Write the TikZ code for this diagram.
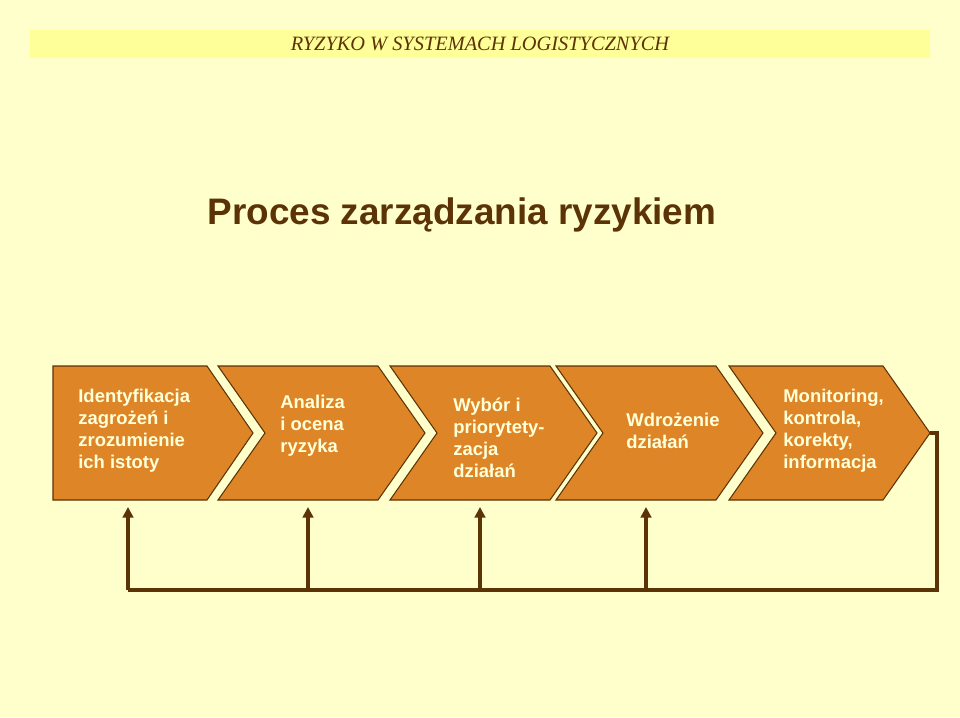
\documentclass[tikz,border=0pt]{standalone}
\usepackage{fontspec}
\setmainfont{Liberation Sans}
\newfontfamily\hdrfont{Liberation Serif}
\usetikzlibrary{calc, positioning, arrows.meta}
\definecolor{bgcream}{HTML}{FFFFCC}
\definecolor{hdrband}{HTML}{FFFF99}
\definecolor{darkbrown}{HTML}{5C3306}
\definecolor{chevfill}{HTML}{DE8528}
\definecolor{chevtext}{HTML}{FFFFD8}
\begin{document}
\begin{tikzpicture}[x=0.02cm,y=-0.02cm,
  chev/.style={fill=chevfill, draw=darkbrown, line width=0.6pt},
  steptxt/.style={anchor=west, align=left, inner sep=0pt, text=chevtext, font=\fontsize{10.5}{12.5}\selectfont\bfseries},
  fb/.style={draw=darkbrown, line width=2.2pt},
  fbarrow/.style={fb, -{Triangle[length=6pt,width=6pt]}}]
  \fill[bgcream] (0,0) rectangle (960,717);
  \useasboundingbox (0,0) rectangle (960,717);
  % naglowek
  \fill[hdrband] (30,30) rectangle (930,58);
  \node[text=darkbrown, font=\hdrfont\itshape\fontsize{11.6}{13}\selectfont] (hdr) at (480,44) {RYZYKO W SYSTEMACH LOGISTYCZNYCH};
  \node[text=darkbrown, font=\fontsize{21}{25}\selectfont\bfseries] (title) at (462,215) {Proces zarządzania ryzykiem};
  % strzalki procesu
  \draw[chev] (53,366) -- (207,366) -- (253,433) -- (207,500) -- (53,500) -- cycle;
  \foreach \l/\r in {218/378, 390/550, 556/716, 729/883}
    \draw[chev] (\l,366) -- (\r,366) -- (\r+47,433) -- (\r,500) -- (\l,500) -- (\l+47,433) -- cycle;
  \node[steptxt] (s1) at (78,431) {Identyfikacja\\zagrożeń i\\zrozumienie\\ich istoty};
  \node[steptxt] (s2) at (280,426) {Analiza\\i ocena\\ryzyka};
  \node[steptxt] (s3) at (453,438) {Wybór i\\priorytety-\\zacja\\działań};
  \node[steptxt] (s4) at (626,431) {Wdrożenie\\działań};
  \node[steptxt] (s5) at (783,431) {Monitoring,\\kontrola,\\korekty,\\informacja};
  % sprzezenie zwrotne
  \coordinate (tip) at (930,433);
  \coordinate (corner) at (937,433);
  \coordinate (low) at (937,590);
  \coordinate (a1) at (128,590);
  \draw[fb, line join=miter] (tip) -- (corner) -- (low) -- (a1);
  \foreach \x in {128, 308, 480, 646}
    \draw[fbarrow] (\x,590) -- (\x,507);
\end{tikzpicture}
\end{document}
